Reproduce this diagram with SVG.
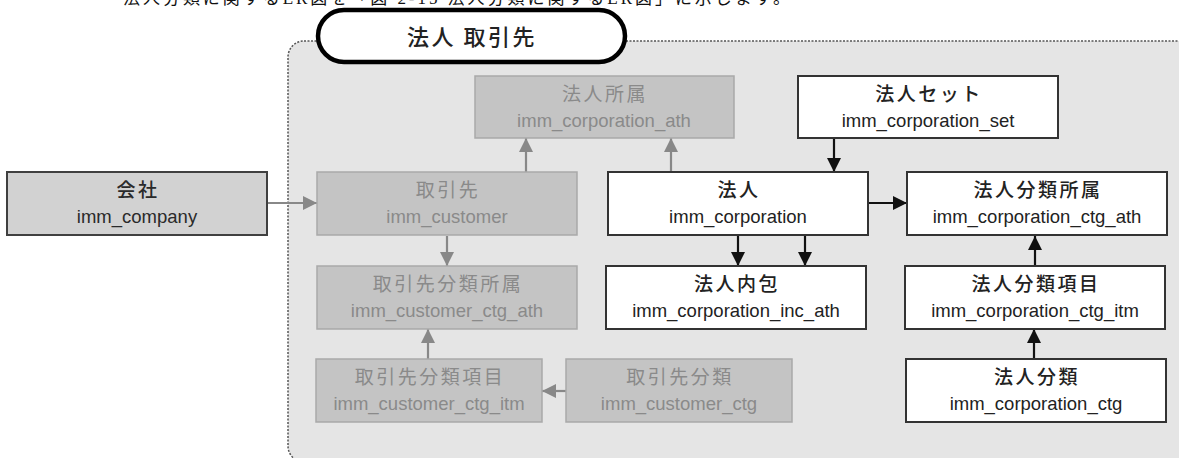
<svg xmlns="http://www.w3.org/2000/svg" width="1179" height="458" viewBox="0 0 1179 458">
<style>
.jp{font-family:"Noto Sans CJK JP","Noto Sans CJK SC",sans-serif;font-size:19px;font-weight:500;letter-spacing:2.5px;text-anchor:middle}
.en{font-family:"Liberation Sans",Arial,sans-serif;font-size:18.5px;text-anchor:middle}
.w rect{fill:#fff;stroke:#333;stroke-width:2}
.w text{fill:#222}
.g rect{fill:#c4c4c4;stroke:#a9a9a9;stroke-width:1.5}
.g text{fill:#8a8a8a}
.g .jp{font-weight:400}
.k rect{fill:#d2d2d2;stroke:#404040;stroke-width:2}
.k text{fill:#2a2a2a}
.cb line{stroke:#111;stroke-width:2.2;fill:none;marker-end:url(#ab)}
.cg line{stroke:#888;stroke-width:2.2;fill:none;marker-end:url(#ag)}
</style>
<defs>
<marker id="ab" viewBox="0 0 14 14" refX="14" refY="7" markerWidth="14" markerHeight="14" markerUnits="userSpaceOnUse" orient="auto"><path d="M0,0 L14,7 L0,14 z" fill="#111"/></marker>
<marker id="ag" viewBox="0 0 14 14" refX="14" refY="7" markerWidth="14" markerHeight="14" markerUnits="userSpaceOnUse" orient="auto"><path d="M0,0 L14,7 L0,14 z" fill="#888"/></marker>
</defs>
<rect width="1179" height="458" fill="#fff"/>
<text x="123" y="4" textLength="667" font-family="'Liberation Serif','Noto Sans CJK JP',serif" font-size="17" fill="#111">法人分類に関するER図を「図 2-15 法人分類に関するER図」に示します。</text>
<g id="container">
<rect x="288" y="41" width="1000" height="421" rx="16" fill="#e5e5e5" stroke="#555" stroke-width="1.5" stroke-dasharray="2 1.5"/>
<rect x="318" y="10" width="307" height="52" rx="26" fill="#fff" stroke="#000" stroke-width="4.5"/>
<text x="472" y="45" font-family="'Noto Sans CJK JP',sans-serif" font-size="22" font-weight="500" letter-spacing="2.5" text-anchor="middle" fill="#222">法人 取引先</text>
</g>
<g id="connectors">
<g class="cg">
<line x1="267" y1="203" x2="317" y2="203"/>
<line x1="526" y1="172" x2="526" y2="138"/>
<line x1="671" y1="172" x2="671" y2="138"/>
<line x1="447" y1="236" x2="447" y2="266"/>
<line x1="428" y1="359" x2="428" y2="329"/>
<line x1="566" y1="391" x2="542" y2="391"/>
</g>
<g class="cb">
<line x1="834" y1="138" x2="834" y2="172"/>
<line x1="738" y1="235" x2="738" y2="266"/>
<line x1="805" y1="235" x2="805" y2="266"/>
<line x1="868" y1="203" x2="907" y2="203"/>
<line x1="1035" y1="266" x2="1035" y2="236"/>
<line x1="1034" y1="359" x2="1034" y2="329"/>
</g>
</g>
<g id="n_company" class="k"><rect x="7" y="172" width="260" height="63"/><text class="jp" x="138" y="197">会社</text><text class="en" x="137" y="223">imm_company</text></g>
<g id="n_customer" class="g"><rect x="317" y="172" width="260" height="63"/><text class="jp" x="448" y="197">取引先</text><text class="en" x="447" y="223">imm_customer</text></g>
<g id="n_customer_ctg_ath" class="g"><rect x="317" y="266" width="260" height="63"/><text class="jp" x="448" y="291">取引先分類所属</text><text class="en" x="447" y="317">imm_customer_ctg_ath</text></g>
<g id="n_customer_ctg_itm" class="g"><rect x="316" y="359" width="226" height="63"/><text class="jp" x="430" y="384">取引先分類項目</text><text class="en" x="429" y="410">imm_customer_ctg_itm</text></g>
<g id="n_customer_ctg" class="g"><rect x="566" y="359" width="226" height="63"/><text class="jp" x="680" y="384">取引先分類</text><text class="en" x="679" y="410">imm_customer_ctg</text></g>
<g id="n_corporation_ath" class="g"><rect x="475" y="76" width="259" height="62"/><text class="jp" x="605" y="101">法人所属</text><text class="en" x="604" y="127">imm_corporation_ath</text></g>
<g id="n_corporation_set" class="w"><rect x="798" y="76" width="260" height="62"/><text class="jp" x="929" y="101">法人セット</text><text class="en" x="928" y="127">imm_corporation_set</text></g>
<g id="n_corporation" class="w"><rect x="608" y="172" width="260" height="63"/><text class="jp" x="739" y="197">法人</text><text class="en" x="738" y="223">imm_corporation</text></g>
<g id="n_corporation_inc_ath" class="w"><rect x="606" y="266" width="260" height="63"/><text class="jp" x="737" y="291">法人内包</text><text class="en" x="736" y="317">imm_corporation_inc_ath</text></g>
<g id="n_corporation_ctg_ath" class="w"><rect x="907" y="172" width="260" height="63"/><text class="jp" x="1038" y="197">法人分類所属</text><text class="en" x="1037" y="223">imm_corporation_ctg_ath</text></g>
<g id="n_corporation_ctg_itm" class="w"><rect x="905" y="266" width="260" height="63"/><text class="jp" x="1036" y="291">法人分類項目</text><text class="en" x="1035" y="317">imm_corporation_ctg_itm</text></g>
<g id="n_corporation_ctg" class="w"><rect x="906" y="359" width="260" height="63"/><text class="jp" x="1037" y="384">法人分類</text><text class="en" x="1036" y="410">imm_corporation_ctg</text></g>
</svg>
